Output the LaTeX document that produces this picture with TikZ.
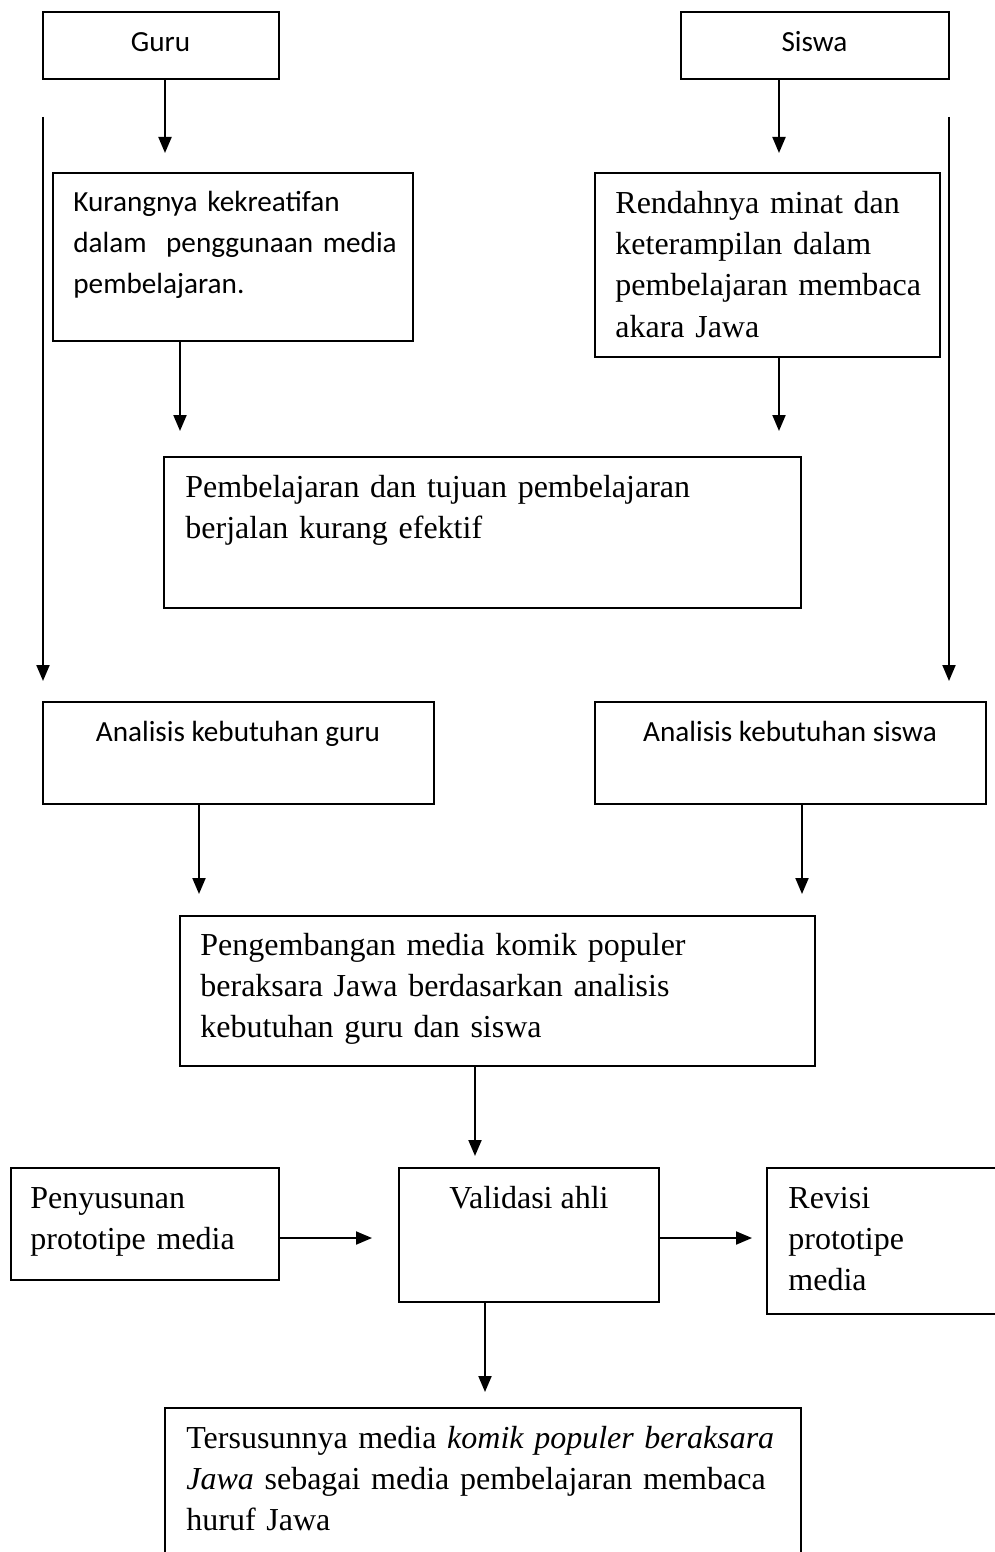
\documentclass[tikz,border=0pt]{standalone}
\usepackage{fontspec}
\setmainfont{Liberation Serif}
\newfontfamily\calfont{Carlito}
\usetikzlibrary{arrows.meta,fit,calc}
\begin{document}
\begin{tikzpicture}[x=0.5pt,y=-0.5pt,
  bx/.style={draw,line width=1pt,inner sep=0pt},
  arr/.style={line width=1pt,-{Triangle[length=8pt,width=6.5pt]}},
  ser/.style={font=\fontsize{16}{20.7}\selectfont},
  cal/.style={font=\calfont\fontsize{14.6}{20.7}\selectfont},
  txt/.style={anchor=base west,inner sep=0pt,text width=330pt,align=left},
  ctxt/.style={anchor=base,inner sep=0pt}]
\useasboundingbox (0,0) rectangle (995,1552);
\clip (0,0) rectangle (995,1552);
% boxes
\node[bx,fit={(43,12)(279,79)}] (guru) {};
\node[bx,fit={(681,12)(949,79)}] (siswa) {};
\node[bx,fit={(53,173)(413,341)}] (kur) {};
\node[bx,fit={(595,173)(940,357)}] (rend) {};
\node[bx,fit={(164,457)(801,608)}] (pemb) {};
\node[bx,fit={(43,702)(434,804)}] (analg) {};
\node[bx,fit={(595,702)(986,804)}] (anals) {};
\node[bx,fit={(180,916)(815,1066)}] (peng) {};
\node[bx,fit={(11,1168)(279,1280)}] (peny) {};
\node[bx,fit={(399,1168)(659,1302)}] (valid) {};
\node[bx,fit={(767,1168)(1012,1314)}] (rev) {};
\node[bx,fit={(165,1408)(801,1575)}] (ters) {};
% texts
\node[cal,ctxt] (guruT) at (160.5,52) {Guru};
\node[cal,ctxt] (siswaT) at (814.5,52) {Siswa};
\node[cal,txt] (kurT) at (73,211) {Kurangnya kekreatifan\\dalam\ \ penggunaan media\\pembelajaran.};
\node[ser,txt] (rendT) at (615,213) {Rendahnya minat dan\\keterampilan dalam\\pembelajaran membaca\\akara Jawa};
\node[ser,txt] (pembT) at (185,497) {Pembelajaran dan tujuan pembelajaran\\berjalan kurang efektif};
\node[cal,ctxt] (analgT) at (238,741) {Analisis kebutuhan guru};
\node[cal,ctxt] (analsT) at (790,741) {Analisis kebutuhan siswa};
\node[ser,txt] (pengT) at (200,955) {Pengembangan media komik populer\\beraksara Jawa berdasarkan analisis\\kebutuhan guru dan siswa};
\node[ser,txt] (penyT) at (30,1208) {Penyusunan\\prototipe media};
\node[ser,ctxt] (validT) at (529,1208) {Validasi ahli};
\node[ser,txt] (revT) at (788,1208) {Revisi\\prototipe\\media};
\node[ser,txt] (tersT) at (186,1448) {Tersusunnya media \textit{komik populer beraksara}\\\textit{Jawa} sebagai media pembelajaran membaca\\huruf Jawa};
% connector x/y positions
\coordinate (c1) at (165,0);
\coordinate (c2) at (779,0);
\coordinate (cl) at (43,117);
\coordinate (cr) at (949,117);
\coordinate (c5) at (180,0);
\coordinate (c7) at (199,0);
\coordinate (c8) at (802,0);
\coordinate (c9) at (475,0);
\coordinate (c10) at (0,1238);
\coordinate (c12) at (485,0);
% connectors
\draw[arr,shorten >=9.5pt] (guru.south -| c1) -- (kur.north -| c1);
\draw[arr,shorten >=9.5pt] (siswa.south -| c2) -- (rend.north -| c2);
\draw[arr,shorten >=10pt] (cl) -- (cl |- analg.north);
\draw[arr,shorten >=10pt] (cr) -- (cr |- anals.north);
\draw[arr,shorten >=12.5pt] (kur.south -| c5) -- (pemb.north -| c5);
\draw[arr,shorten >=12.5pt] (rend.south -| c2) -- (pemb.north -| c2);
\draw[arr,shorten >=10.5pt] (analg.south -| c7) -- (peng.north -| c7);
\draw[arr,shorten >=10.5pt] (anals.south -| c8) -- (peng.north -| c8);
\draw[arr,shorten >=5.5pt] (peng.south -| c9) -- (valid.north -| c9);
\draw[arr,shorten >=13pt] (peny.east |- c10) -- (valid.west |- c10);
\draw[arr,shorten >=7pt] (valid.east |- c10) -- (rev.west |- c10);
\draw[arr,shorten >=7.5pt] (valid.south -| c12) -- (ters.north -| c12);
\end{tikzpicture}
\end{document}
